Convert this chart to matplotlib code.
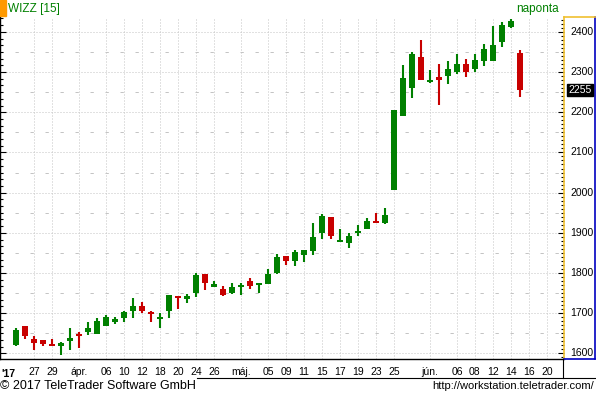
import matplotlib
matplotlib.use("Agg")
import matplotlib.pyplot as plt
from matplotlib.lines import Line2D
from matplotlib.patches import Rectangle
from matplotlib.ticker import MultipleLocator
import matplotlib.transforms as mtrans

# napi arfolyamok (WIZZ), kereskedesi napok sorrendjeben
opens  = [1621, 1668, 1636, 1633, 1624, 1619, 1631, 1649, 1654, 1649,
          1667, 1678, 1689, 1706, 1718, 1703, 1685, 1706, 1743, 1735,
          1750, 1797, 1765, 1760, 1750, 1766, 1779, 1770, 1773, 1801,
          1843, 1830, 1845, 1855, 1900, 1940, 1876, 1874, 1899, 1910,
          1930, 1924, 2006, 2191, 2261, 2338, 2275, 2288, 2291, 2300,
          2320, 2308, 2328, 2328, 2375, 2412, 2348]
highs  = [1663, 1668, 1644, 1633, 1636, 1629, 1663, 1653, 1678, 1688,
          1695, 1691, 1706, 1738, 1728, 1706, 1701, 1746, 1743, 1748,
          1800, 1797, 1780, 1768, 1776, 1776, 1787, 1775, 1810, 1848,
          1843, 1857, 1857, 1925, 1947, 1940, 1910, 1900, 1920, 1937,
          1950, 1961, 2206, 2318, 2350, 2380, 2305, 2320, 2328, 2345,
          2333, 2345, 2370, 2415, 2425, 2432, 2355]
lows   = [1619, 1635, 1609, 1619, 1619, 1595, 1609, 1614, 1646, 1647,
          1667, 1673, 1679, 1689, 1700, 1679, 1664, 1687, 1711, 1726,
          1741, 1758, 1765, 1743, 1748, 1746, 1760, 1751, 1773, 1798,
          1820, 1818, 1828, 1845, 1885, 1885, 1876, 1862, 1891, 1910,
          1925, 1921, 2006, 2191, 2236, 2280, 2272, 2219, 2271, 2295,
          2288, 2300, 2315, 2328, 2362, 2410, 2238]
closes = [1658, 1642, 1627, 1623, 1619, 1627, 1639, 1642, 1663, 1681,
          1691, 1685, 1702, 1718, 1706, 1698, 1688, 1746, 1738, 1744,
          1795, 1776, 1773, 1746, 1764, 1770, 1768, 1775, 1798, 1840,
          1830, 1852, 1856, 1890, 1942, 1891, 1880, 1891, 1905, 1930,
          1925, 1945, 2206, 2285, 2345, 2280, 2280, 2280, 2308, 2320,
          2300, 2330, 2358, 2368, 2418, 2427, 2255]

# datum-feliratok (kereskedesi nap sorszama)
tick_pos = [2, 4, 7, 10, 12, 14, 16, 18, 20, 22, 25, 28, 30, 32, 34, 36,
            38, 40, 42, 46, 49, 51, 53, 55, 57, 59]
tick_labels = ["27", "29", "ápr.", "06", "10", "12", "18", "20", "24", "26",
               "máj.", "05", "09", "11", "15", "17", "19", "23", "25",
               "jún.", "06", "08", "12", "14", "16", "20"]
price_labels = [1600, 1700, 1800, 1900, 2000, 2100, 2200, 2300, 2400]

GREEN = "#008000"
RED = "#c80000"
GRID = "#c4c4c4"

W, H = 596, 396
fig = plt.figure(figsize=(W / 100, H / 100), dpi=100)
plt.rcParams['font.family'] = ['Liberation Sans', 'DejaVu Sans']


def box(x0, y0, x1, y1):
    return [x0 / W, 1 - y1 / H, (x1 - x0) / W, (y1 - y0) / H]


ax = fig.add_axes(box(0, 17, 564, 359))
ax2 = fig.add_axes(box(564, 17, 595, 359))

ylim = (1586, 2437)
ax.set_ylim(*ylim)
ax2.set_ylim(*ylim)
ax.set_xlim(-1.78, 60.9)

# gyertyak
x = list(range(len(opens)))
colors = [GREEN if c >= o else RED for o, c in zip(opens, closes)]
ax.vlines(x, lows, highs, colors=colors, linewidth=1.5, zorder=3)
bottoms = [min(o, c) for o, c in zip(opens, closes)]
heights = [max(abs(c - o), 5) for o, c in zip(opens, closes)]
ax.bar(x, heights, bottom=bottoms, width=0.75, color=colors,
       linewidth=0, zorder=4)

# racs
ax.yaxis.set_major_locator(MultipleLocator(100))
ax.yaxis.set_minor_locator(MultipleLocator(100 / 6))
for v in range(1650, 2450, 100):
    ax.axhline(v, color=GRID, linewidth=0.72, linestyle=(0, (3.3, 11.7)),
               zorder=1)
for v in price_labels:
    ax.axhline(v, color=GRID, linewidth=0.72, linestyle=(0, (1, 2)), zorder=1)
for p in tick_pos:
    ax.axvline(p, color=GRID, linewidth=0.72, linestyle=(0, (1, 2)), zorder=1)

ax.set_xticks(tick_pos)
ax.set_xticklabels(tick_labels, fontsize=7.5)
ax.tick_params(axis='x', length=0, pad=5.5)
ax.tick_params(axis='y', which='both', direction='in', labelleft=False,
               width=0.8, color='black')
ax.tick_params(axis='y', which='major', length=4.5)
ax.tick_params(axis='y', which='minor', length=2.5)
ax.spines['top'].set_visible(False)
ax.spines['right'].set_visible(False)
ax.spines['left'].set_linewidth(1)
ax.spines['bottom'].set_linewidth(1)

ax.text(-1.6, -0.03, "'17", transform=mtrans.blended_transform_factory(
    ax.transData, ax.transAxes), fontsize=7.5, fontweight='bold',
    ha='left', va='top')

# jobb oldali arfolyam-skala
ax2.set_xticks([])
ax2.yaxis.set_major_locator(MultipleLocator(100))
ax2.yaxis.set_minor_locator(MultipleLocator(10))
ax2.tick_params(axis='y', which='both', direction='out', labelleft=False,
                width=0.8, color='black')
ax2.tick_params(axis='y', which='major', length=4.5)
ax2.tick_params(axis='y', which='minor', length=2)
ax2.spines['left'].set_color('#f0c030')
ax2.spines['top'].set_color('#f0c030')
ax2.spines['right'].set_color('#0000c0')
ax2.spines['bottom'].set_color('#0000c0')
for s in ax2.spines.values():
    s.set_linewidth(1.2)
tr = mtrans.blended_transform_factory(ax2.transAxes, ax2.transData)
for v in price_labels:
    ax2.text(0.95, v, str(v), transform=tr, fontsize=7.5, ha='right',
             va='center')
ax2.text(0.88, closes[-1], str(closes[-1]), transform=tr, fontsize=7.5,
         ha='right', va='center', color='white',
         bbox=dict(boxstyle='square,pad=0.12', fc='black', ec='black'))

# fejlec
fig.add_artist(Rectangle((0, 1 - 16 / H), 6 / W, 16 / H, color='#ff9900',
                         transform=fig.transFigure))
fig.text(8 / W, 1 - 9 / H, "WIZZ [15]", color=GREEN, fontsize=8.5,
         ha='left', va='center')
fig.text(559 / W, 1 - 9 / H, "naponta", color=GREEN, fontsize=8.5,
         ha='right', va='center')

# lablec
fig.add_artist(Line2D([197 / W, 1], [1 - 378 / H] * 2, color='black',
                      linewidth=0.8, transform=fig.transFigure))
fig.add_artist(Line2D([563 / W] * 2, [1 - 359 / H, 1 - 378 / H],
                      color='black', linewidth=0.8, transform=fig.transFigure))
fig.text(0, 1 - 386 / H, "© 2017 TeleTrader Software GmbH", fontsize=9,
         ha='left', va='center')
fig.text(594 / W, 1 - 386 / H, "http://workstation.teletrader.com/",
         fontsize=8, ha='right', va='center')

fig.savefig("out.png", dpi=100)
